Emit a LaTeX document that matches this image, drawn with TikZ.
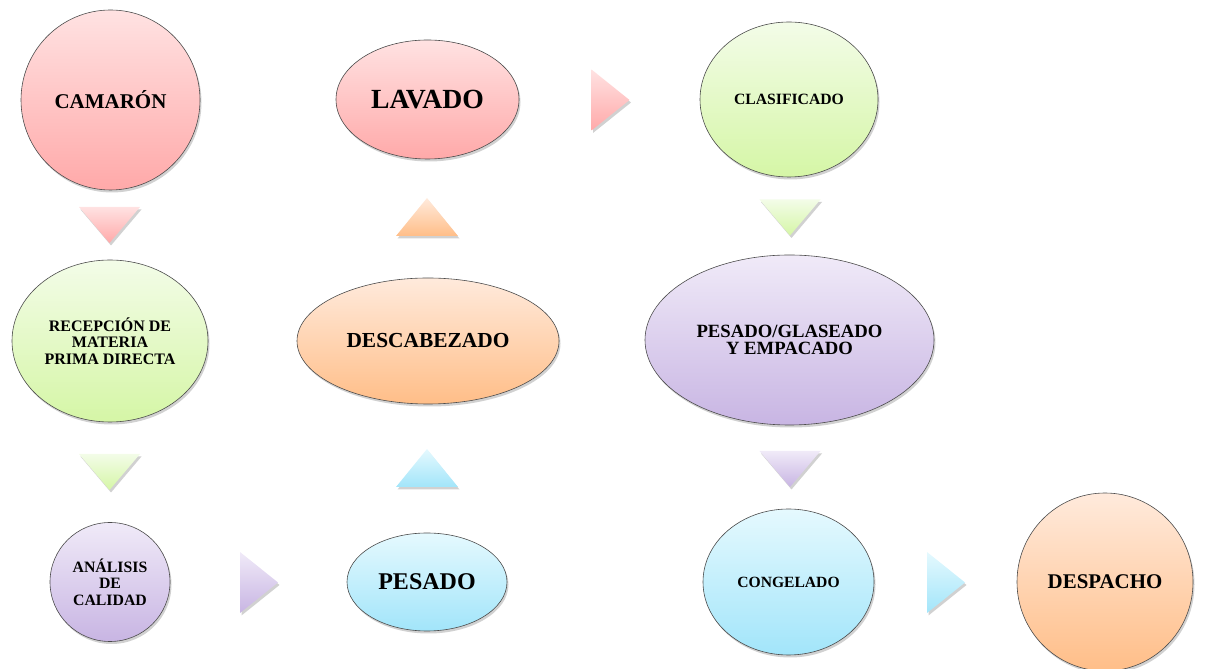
\documentclass[tikz,border=0pt]{standalone}
\usepackage{fontspec}
\setmainfont{Liberation Serif}
\usetikzlibrary{shapes.geometric,shadows}
\definecolor{pinkT}{HTML}{FFE2E2}\definecolor{pinkB}{HTML}{FFA9A9}
\definecolor{greenT}{HTML}{F3FCE8}\definecolor{greenB}{HTML}{D5F6A6}
\definecolor{purpT}{HTML}{F0EAF8}\definecolor{purpB}{HTML}{C8B5E3}
\definecolor{cyanT}{HTML}{E5F9FE}\definecolor{cyanB}{HTML}{A2E5FA}
\definecolor{oranT}{HTML}{FFEADC}\definecolor{oranB}{HTML}{FFBE88}
\tikzset{
  x=1pt,y=1pt,
  shd/.style={drop shadow={shadow xshift=1.5pt,shadow yshift=-2.5pt,opacity=0.3,fill=black!60}},
  proc/.style={ellipse,draw=black!70,line width=0.6pt,inner sep=0pt,align=center,font=\bfseries,shd},
  fpink/.style={top color=pinkT,bottom color=pinkB},
  fgreen/.style={top color=greenT,bottom color=greenB},
  fpurp/.style={top color=purpT,bottom color=purpB},
  fcyan/.style={top color=cyanT,bottom color=cyanB},
  foran/.style={top color=oranT,bottom color=oranB},
  tri/.style={shd},
  tridown/.pic={\path[tri,#1] (-30.5,18) -- (30.5,18) -- (0,-18) -- cycle;},
  triup/.pic={\path[tri,#1] (-31,-19) -- (31,-19) -- (0,19) -- cycle;},
  triright/.pic={\path[tri,#1] (-19,30.5) -- (19,0) -- (-19,-30.5) -- cycle;},
}
\begin{document}
\begin{tikzpicture}
\useasboundingbox (0,0) rectangle (1208,669);
% nodes
\node[proc,fpink,minimum width=179,minimum height=180,font=\bfseries\fontsize{21}{23}\selectfont] (cam) at (110.5,569) {CAMARÓN};
\node[proc,fgreen,minimum width=196,minimum height=162,font=\bfseries\fontsize{16}{16.5}\selectfont] (rec) at (110,328) {RECEPCIÓN DE\\MATERIA\\PRIMA DIRECTA};
\node[proc,fpurp,minimum width=120,minimum height=119,font=\bfseries\fontsize{15.8}{16.5}\selectfont] (ana) at (110,87) {ANÁLISIS\\DE\\CALIDAD};
\node[proc,fcyan,minimum width=160,minimum height=98,font=\bfseries\fontsize{24}{26}\selectfont] (pes) at (427,87) {PESADO};
\node[proc,foran,minimum width=262,minimum height=126,font=\bfseries\fontsize{21.4}{23}\selectfont] (des) at (428,328) {DESCABEZADO};
\node[proc,fpink,minimum width=183,minimum height=119,font=\bfseries\fontsize{27.7}{30}\selectfont] (lav) at (427.5,569.5) {LAVADO};
\node[proc,fgreen,minimum width=178,minimum height=155,font=\bfseries\fontsize{15.7}{17}\selectfont] (cla) at (789,569.5) {CLASIFICADO};
\node[proc,fpurp,minimum width=289,minimum height=170,font=\bfseries\fontsize{18.7}{16.7}\selectfont] (pge) at (789.5,329) {PESADO/GLASEADO\\Y EMPACADO};
\node[proc,fcyan,minimum width=171,minimum height=146,font=\bfseries\fontsize{15.6}{17}\selectfont] (con) at (788.5,87) {CONGELADO};
\node[proc,foran,minimum width=176,minimum height=178,font=\bfseries\fontsize{20.9}{23}\selectfont] (dsp) at (1105,87) {DESPACHO};
% arrows (triangles)
\pic at (109.5,444) {tridown=fpink};
\pic at (109.5,197) {tridown=fgreen};
\pic at (259,86.5) {triright=fpurp};
\pic at (427,201) {triup=fcyan};
\pic at (427,452) {triup=foran};
\pic at (610.5,569) {triright=fpink};
\pic at (790,451.5) {tridown=fgreen};
\pic at (790,200) {tridown=fpurp};
\pic at (946,86.5) {triright=fcyan};
\end{tikzpicture}
\end{document}
